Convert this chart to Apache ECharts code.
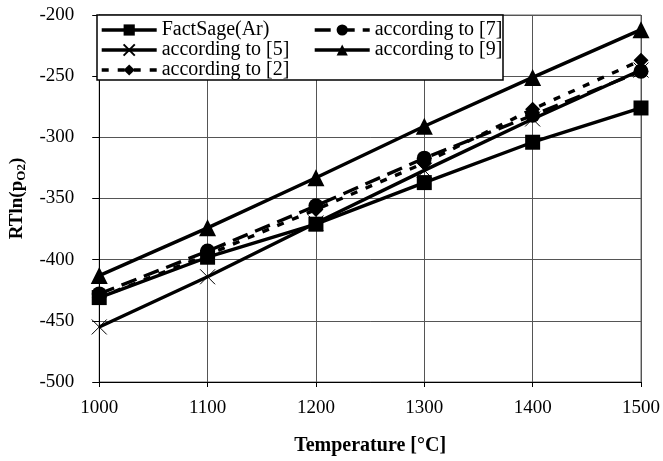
<!DOCTYPE html>
<html>
<head>
<meta charset="utf-8">
<script src="https://cdn.jsdelivr.net/npm/echarts@6/dist/echarts.min.js"></script>
<style>
  html, body { margin: 0; padding: 0; background: #fff; }
  #chart { width: 663px; height: 461px; }
</style>
</head>
<body>
<div id="chart"></div>
<script>
// Temperatures (°C) and RTln(pO2) values for each data source
const temperatures = [1000, 1100, 1200, 1300, 1400, 1500];
const factSage = [-431, -398, -371, -337, -304, -276];
const ref7 = [-428, -393, -356, -317, -282, -246];
const ref5 = [-455, -414, -370, -327, -285, -245];
const ref9 = [-413, -374, -333, -291, -251, -212];
const ref2 = [-431, -396, -359, -321, -277, -237];
const seriesNames = ['FactSage(Ar)', 'according to [7]', 'according to [5]', 'according to [9]', 'according to [2]'];

const FONT = 'Liberation Serif';
const crossPath = 'path://M0,0L10,10M10,0L0,10';

function pairs(vals) {
  return temperatures.map((t, i) => [t, vals[i]]);
}

function lineSeries(name, vals, symbol, size, dash) {
  const isCross = symbol === crossPath;
  return {
    name: name,
    type: 'line',
    data: pairs(vals),
    symbol: symbol,
    symbolSize: size,
    lineStyle: { color: '#000', width: 3.4, type: dash },
    itemStyle: { color: isCross ? 'rgba(0,0,0,0)' : '#000', borderColor: '#000', borderWidth: isCross ? 1 : 0 },
    emphasis: { disabled: true },
    animation: false
  };
}

const chart = echarts.init(document.getElementById('chart'), null, { renderer: 'canvas' });

const legendCommon = {
  orient: 'vertical',
  top: 20,
  z: 20,
  itemGap: 0,
  itemWidth: 55,
  itemHeight: 14,
  padding: 0,
  lineStyle: { width: 3.4 },
  textStyle: { fontFamily: FONT, fontSize: 20, lineHeight: 20, color: '#000', padding: [0, 0, 0, 0] },
  selectedMode: false
};

chart.setOption({
  backgroundColor: '#fff',
  animation: false,
  grid: {
    left: 97, right: 20, top: 15, bottom: 78,
    show: true, borderColor: '#666', borderWidth: 1
  },
  graphic: [{
    type: 'rect',
    z: 5,
    shape: { x: 97, y: 15, width: 406, height: 65 },
    style: { fill: '#fff', stroke: '#000', lineWidth: 1.5 }
  }],
  legend: [
    Object.assign({ left: 100, data: [seriesNames[0], seriesNames[2], seriesNames[4]] }, legendCommon),
    Object.assign({ left: 313, data: [seriesNames[1], seriesNames[3]] }, legendCommon)
  ],
  xAxis: {
    type: 'value',
    min: 1000, max: 1500, interval: 100,
    name: 'Temperature [°C]',
    nameLocation: 'middle',
    nameGap: 54,
    nameTextStyle: { fontFamily: FONT, fontSize: 20, fontWeight: 'bold', color: '#000' },
    axisLine: { lineStyle: { color: '#000', width: 1 } },
    axisTick: { show: true, inside: false, length: 5, lineStyle: { color: '#000' } },
    axisLabel: { fontFamily: FONT, fontSize: 19, color: '#000', margin: 17, formatter: v => String(v) },
    splitLine: { show: true, lineStyle: { color: '#555', width: 1 } }
  },
  yAxis: {
    type: 'value',
    min: -500, max: -200, interval: 50,
    name: 'RTln(p{sub|O2})',
    nameLocation: 'middle',
    nameGap: 70,
    nameRotate: 90,
    nameTextStyle: {
      fontFamily: FONT, fontSize: 19, fontWeight: 'bold', color: '#000',
      rich: {
        sub: { fontFamily: FONT, fontSize: 13, fontWeight: 'bold', color: '#000', verticalAlign: 'bottom', padding: [9, 0, 0, 0] }
      }
    },
    axisLine: { show: true, lineStyle: { color: '#000', width: 1 } },
    axisTick: { show: true, inside: false, length: 7, lineStyle: { color: '#000' } },
    axisLabel: { fontFamily: FONT, fontSize: 19, color: '#000', margin: 25, formatter: v => String(v) },
    splitLine: { show: true, lineStyle: { color: '#555', width: 1 } }
  },
  series: [
    lineSeries(seriesNames[0], factSage, 'rect', 15, 'solid'),
    lineSeries(seriesNames[1], ref7, 'circle', 15, [16, 8]),
    lineSeries(seriesNames[2], ref5, crossPath, 15, 'solid'),
    lineSeries(seriesNames[3], ref9, 'triangle', 17, 'solid'),
    lineSeries(seriesNames[4], ref2, 'diamond', 15, [7, 9])
  ]
});
</script>
</body>
</html>
